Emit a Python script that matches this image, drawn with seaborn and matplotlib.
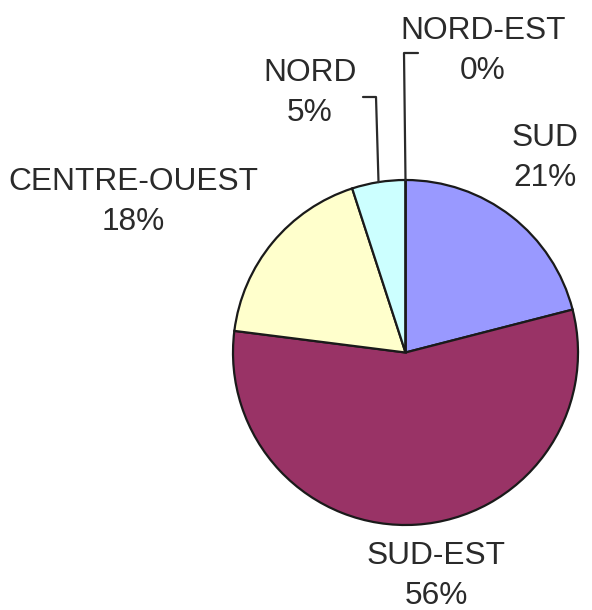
import numpy as np
import matplotlib
matplotlib.use("Agg")
import matplotlib.pyplot as plt
import seaborn as sns

regions = ["SUD", "SUD-EST", "CENTRE-OUEST", "NORD", "NORD-EST"]
shares = [21, 56, 18, 5, 0]
colors = ["#9999FF", "#993366", "#FFFFCC", "#CCFFFF", "#FFFFFF"]

sns.set_theme(style="white")
plt.rcParams['font.family'] = ['Liberation Sans', 'DejaVu Sans']

W, H = 592, 610
fig = plt.figure(figsize=(W / 100, H / 100), dpi=100)
ax = fig.add_axes([0, 0, 1, 1])

cx, cy, r = 405.5, H - 352.5, 172.5
ax.pie(shares, colors=colors, startangle=90, counterclock=False,
       center=(cx, cy), radius=r,
       wedgeprops=dict(edgecolor="#1a1a1a", linewidth=1.6))
ax.set_xlim(0, W)
ax.set_ylim(0, H)
ax.set_aspect("equal")
ax.set_axis_off()

# label positions (pixel, top-down)
label_pos = {
    "SUD": (545, 158),
    "SUD-EST": (436, 576),
    "CENTRE-OUEST": (133, 202),
    "NORD": (310, 93),
    "NORD-EST": (483, 51),
}
for name, val in zip(regions, shares):
    x, y = label_pos[name]
    ax.text(x, H - y, f"{name}\n{val}%", ha="center", va="center",
            fontsize=22.8, color="#2a2a2a", linespacing=1.4)

# leader lines for the small slices
cum = np.cumsum([0] + shares)
total = sum(shares)
ends = {"NORD": [(376, 97), (363, 97)], "NORD-EST": [(404, 53), (418, 53)]}
for i, name in enumerate(regions):
    if name not in ends:
        continue
    mid = 90 - 360 * (cum[i] + shares[i] / 2) / total
    sx = cx + r * np.cos(np.radians(mid))
    sy = cy + r * np.sin(np.radians(mid))
    xs = [sx] + [p[0] for p in ends[name]]
    ys = [sy] + [H - p[1] for p in ends[name]]
    ax.plot(xs, ys, color="#2a2a2a", lw=1.6)

fig.savefig("out.png", dpi=100)
